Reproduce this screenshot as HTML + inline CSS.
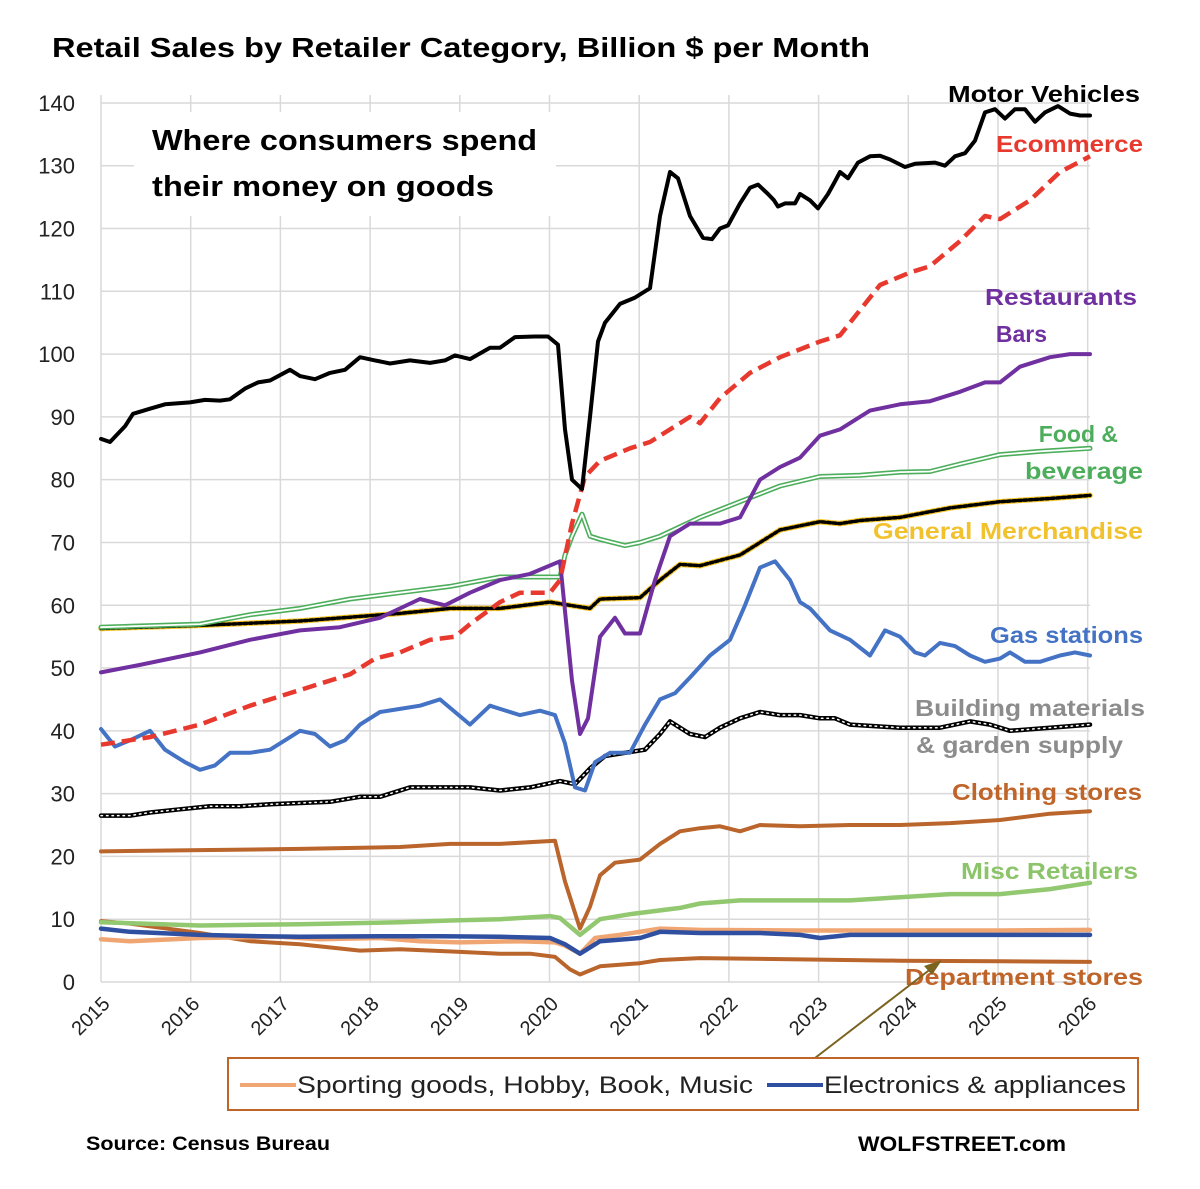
<!DOCTYPE html>
<html><head><meta charset="utf-8"><style>
html,body{margin:0;padding:0;background:#fff}
svg{display:block}
text{font-family:"Liberation Sans",sans-serif}
</style></head><body>
<svg id="s" width="1200" height="1189" viewBox="0 0 1200 1189" xmlns="http://www.w3.org/2000/svg">
<rect width="1200" height="1189" fill="#fff"/>
<g id="grid" stroke="#d9d9d9" stroke-width="1.5"></g>
<rect x="134" y="112" width="422" height="104" fill="#fff"/>
<g id="series" fill="none" stroke-linejoin="round" stroke-linecap="round"></g>
<g id="ylab" font-size="22" fill="#222" text-anchor="end"></g>
<g id="xlab" font-size="20" fill="#222" text-anchor="end"></g>
<text x="52" y="57" font-size="28" font-weight="bold" textLength="818" lengthAdjust="spacingAndGlyphs">Retail Sales by Retailer Category, Billion $ per Month</text>
<text x="152" y="150" font-size="29" font-weight="bold" textLength="385" lengthAdjust="spacingAndGlyphs">Where consumers spend</text>
<text x="152" y="196" font-size="29" font-weight="bold" textLength="342" lengthAdjust="spacingAndGlyphs">their money on goods</text>
<g font-size="23" font-weight="bold" text-anchor="end">
<text x="1140" y="102" fill="#000" textLength="192" lengthAdjust="spacingAndGlyphs">Motor Vehicles</text>
<text x="1143" y="152" fill="#e8392f" textLength="147" lengthAdjust="spacingAndGlyphs">Ecommerce</text>
<text x="1137" y="305" fill="#7030a0" textLength="152" lengthAdjust="spacingAndGlyphs">Restaurants</text>
<text x="1047" y="342" fill="#7030a0">Bars</text>
<text x="1118" y="442" fill="#4cae5b">Food &amp;</text>
<text x="1143" y="479" fill="#4cae5b" textLength="118" lengthAdjust="spacingAndGlyphs">beverage</text>
<text x="1143" y="539" fill="#f2c12e" textLength="270" lengthAdjust="spacingAndGlyphs">General Merchandise</text>
<text x="1143" y="643" fill="#4472c4" textLength="153" lengthAdjust="spacingAndGlyphs">Gas stations</text>
<text x="1145" y="716" fill="#8c8c8c" textLength="230" lengthAdjust="spacingAndGlyphs">Building materials</text>
<text x="1123" y="753" fill="#8c8c8c" textLength="207" lengthAdjust="spacingAndGlyphs">&amp; garden supply</text>
<text x="1142" y="800" fill="#c0652a" textLength="190" lengthAdjust="spacingAndGlyphs">Clothing stores</text>
<text x="1138" y="879" fill="#8cc46a" textLength="177" lengthAdjust="spacingAndGlyphs">Misc Retailers</text>
<text x="1143" y="985" fill="#c0652a" textLength="238" lengthAdjust="spacingAndGlyphs">Department stores</text>
</g>
<line x1="815" y1="1058" x2="932" y2="968" stroke="#7a6420" stroke-width="2"/>
<polygon points="942,960 924,966 932,975" fill="#7a6420"/>
<rect x="228" y="1058" width="910" height="52" fill="#fff" stroke="#c0652a" stroke-width="2"/>
<line x1="240" y1="1085" x2="296" y2="1085" stroke="#f0a672" stroke-width="4"/>
<text x="297" y="1093" font-size="24" fill="#222" textLength="456" lengthAdjust="spacingAndGlyphs">Sporting goods, Hobby, Book,  Music</text>
<line x1="767" y1="1085" x2="823" y2="1085" stroke="#2f4fa0" stroke-width="4"/>
<text x="824" y="1093" font-size="24" fill="#222" textLength="302" lengthAdjust="spacingAndGlyphs">Electronics &amp; appliances</text>
<text x="86" y="1150" font-size="19" font-weight="bold" textLength="244" lengthAdjust="spacingAndGlyphs">Source: Census Bureau</text>
<text x="858" y="1151" font-size="21" font-weight="bold" textLength="208" lengthAdjust="spacingAndGlyphs">WOLFSTREET.com</text>
</svg>
<script>
const NS="http://www.w3.org/2000/svg";
const Y=v=>982-v*6.279;
function el(p,tag,a,txt){const e=document.createElementNS(NS,tag);for(const k in a)e.setAttribute(k,a[k]);if(txt!==undefined)e.textContent=txt;p.appendChild(e);return e;}
const g=document.getElementById('grid');
for(let i=0;i<=14;i++){el(g,'line',{x1:101,x2:1090,y1:Y(i*10),y2:Y(i*10)});el(document.getElementById('ylab'),'text',{x:75,y:Y(i*10)+8},String(i*10));}
for(let i=0;i<=11;i++){const x=101+i*89.7;el(g,'line',{x1:x,x2:x,y1:95,y2:982});el(document.getElementById('xlab'),'text',{x:0,y:0,transform:`translate(${x+10},${1005}) rotate(-45)`},String(2015+i));}
const S=document.getElementById('series');
function P(d){return d.map((p,i)=>(i?'L':'M')+p[0]+','+Y(p[1]).toFixed(1)).join(' ');}
function add(d,a){a.d=P(d);el(S,'path',a);}
const dept=[[101,9.7],[130,9.3],[200,7.8],[250,6.5],[300,6],[360,5],[400,5.2],[460,4.8],[500,4.5],[530,4.5],[555,4],[570,2],[580,1.2],[600,2.5],[640,3],[660,3.5],[700,3.8],[800,3.6],[900,3.4],[1000,3.3],[1090,3.2]];
const sport=[[101,6.8],[130,6.5],[200,7],[280,7.2],[320,6.8],[380,7],[420,6.5],[460,6.3],[520,6.5],[555,6.3],[565,5.8],[580,4.5],[595,7],[620,7.5],[660,8.5],[700,8.3],[800,8.2],[900,8.2],[1000,8.2],[1090,8.3]];
const elec=[[101,8.5],[130,8],[200,7.5],[260,7.3],[300,7.2],[380,7.3],[440,7.3],[500,7.2],[550,7],[565,6],[580,4.5],[600,6.5],[640,7],[660,8],[700,7.8],[760,7.8],[800,7.5],[820,7],[850,7.5],[900,7.5],[1000,7.5],[1090,7.5]];
const misc=[[101,9.5],[200,9],[300,9.2],[400,9.5],[450,9.8],[500,10],[550,10.5],[560,10.2],[580,7.5],[600,10],[630,10.8],[680,11.8],[700,12.5],[740,13],[800,13],[850,13],[900,13.5],[950,14],[1000,14],[1050,14.8],[1090,15.8]];
const cloth=[[101,20.8],[200,21],[300,21.2],[400,21.5],[450,22],[500,22],[555,22.5],[565,16],[580,8.5],[590,12],[600,17],[615,19],[640,19.5],[660,22],[680,24],[700,24.5],[720,24.8],[740,24],[760,25],[800,24.8],[850,25],[900,25],[950,25.3],[1000,25.8],[1050,26.8],[1090,27.2]];
const build=[[101,26.5],[130,26.5],[150,27],[180,27.5],[210,28],[240,28],[270,28.3],[300,28.5],[330,28.7],[360,29.5],[380,29.5],[410,31],[440,31],[470,31],[500,30.5],[530,31],[560,32],[575,31.5],[590,34],[605,36],[625,36.5],[645,37],[660,39.5],[670,41.5],[690,39.5],[705,39],[720,40.5],[740,42],[760,43],[780,42.5],[800,42.5],[820,42],[835,42],[850,41],[900,40.5],[940,40.5],[970,41.5],[990,41],[1010,40],[1050,40.5],[1090,41]];
const gas=[[101,40.3],[115,37.5],[130,38.5],[150,40],[165,37],[185,35],[200,33.8],[215,34.5],[230,36.5],[250,36.5],[270,37],[285,38.5],[300,40],[315,39.5],[330,37.5],[345,38.5],[360,41],[380,43],[400,43.5],[420,44],[440,45],[455,43],[470,41],[490,44],[500,43.5],[520,42.5],[540,43.2],[555,42.5],[565,38],[575,31],[585,30.5],[595,35],[610,36.5],[630,36.5],[645,41],[660,45],[675,46],[690,48.5],[710,52],[730,54.5],[745,60],[760,66],[775,67],[790,64],[800,60.5],[810,59.5],[830,56],[850,54.5],[870,52],[885,56],[900,55],[915,52.5],[925,52],[940,54],[955,53.5],[970,52],[985,51],[1000,51.5],[1010,52.5],[1025,51],[1040,51],[1060,52],[1075,52.5],[1090,52]];
const gm=[[101,56.3],[200,56.8],[300,57.5],[400,58.7],[450,59.5],[500,59.5],[550,60.5],[570,60],[590,59.5],[600,61],[640,61.2],[660,64],[680,66.5],[700,66.3],[740,68],[760,70],[780,72],[820,73.3],[840,73],[860,73.5],[900,74],[950,75.5],[1000,76.5],[1050,77],[1090,77.5]];
const food=[[101,56.5],[200,57],[250,58.5],[300,59.5],[350,61],[400,62],[450,63],[500,64.5],[520,64.5],[560,64.5],[565,68],[572,71],[582,74.5],[590,71],[600,70.5],[625,69.5],[640,70],[660,71],[700,74],[740,76.5],[780,79],[820,80.5],[860,80.7],[900,81.2],[930,81.3],[960,82.5],[1000,84],[1040,84.5],[1090,85]];
const rest=[[101,49.3],[140,50.5],[200,52.5],[250,54.5],[300,56],[340,56.5],[380,58],[420,61],[445,60],[470,62],[500,64],[530,65],[560,67],[572,48],[580,39.5],[588,42],[600,55],[615,58],[625,55.5],[640,55.5],[655,64],[670,71],[690,73],[720,73],[740,74],[760,80],[780,82],[800,83.5],[820,87],[840,88],[870,91],[900,92],[930,92.5],[960,94],[985,95.5],[1000,95.5],[1020,98],[1050,99.5],[1070,100],[1090,100]];
const ecom=[[101,37.8],[150,39],[200,41],[250,44],[300,46.5],[350,49],[375,51.5],[400,52.5],[430,54.5],[455,55],[470,57],[500,60.5],[520,62],[550,62],[560,64],[572,73],[585,80.5],[600,83],[630,85],[650,86],[670,88],[690,90],[700,89],[720,93],[750,97],[780,99.5],[820,102],[840,103],[880,111],[910,113],[930,114],[960,118],[985,122],[1000,121.5],[1030,124.5],[1060,129],[1090,131.5]];
const mv=[[101,86.5],[110,86],[125,88.5],[133,90.5],[150,91.3],[165,92],[190,92.3],[205,92.7],[220,92.6],[230,92.8],[245,94.5],[258,95.5],[270,95.8],[290,97.5],[300,96.5],[315,96],[330,97],[345,97.5],[360,99.5],[375,99],[390,98.5],[410,99],[430,98.6],[445,99],[455,99.8],[470,99.2],[490,101],[500,101],[515,102.7],[535,102.8],[548,102.8],[558,101.5],[565,88],[572,80],[582,78.5],[590,90],[598,102],[605,105],[620,108],[635,109],[650,110.5],[660,122],[670,129],[678,128],[690,122],[703,118.5],[712,118.3],[720,120],[728,120.5],[740,124],[750,126.5],[758,127],[768,125.5],[774,124.5],[778,123.5],[785,124],[795,124],[800,125.5],[810,124.5],[818,123.2],[828,125.5],[835,127.5],[840,129],[848,128],[858,130.5],[870,131.5],[880,131.6],[890,131],[905,129.8],[915,130.3],[935,130.5],[945,130],[955,131.5],[965,132],[975,134],[985,138.5],[995,139],[1005,137.5],[1015,139],[1025,139],[1035,137],[1045,138.5],[1058,139.5],[1070,138.3],[1080,138],[1090,138]];
add(dept,{stroke:'#b9652c','stroke-width':4});
add(sport,{stroke:'#f0a672','stroke-width':4.5});
add(misc,{stroke:'#92c86f','stroke-width':4.5});
add(elec,{stroke:'#2f4fa0','stroke-width':4.5});
add(cloth,{stroke:'#b9652c','stroke-width':4});
add(build,{stroke:'#000','stroke-width':4.5});
add(build,{stroke:'#fff','stroke-width':1.5,'stroke-dasharray':'1.5 4'});
add(gas,{stroke:'#4472c4','stroke-width':4});
add(gm,{stroke:'#f5c62a','stroke-width':5.5});
add(gm,{stroke:'#000','stroke-width':3.5,'stroke-dasharray':'3 2.5'});
add(food,{stroke:'#4cae5b','stroke-width':5});
add(food,{stroke:'#fff','stroke-width':1.8});
add(rest,{stroke:'#7030a0','stroke-width':4});
add(ecom,{stroke:'#e8392f','stroke-width':4.5,'stroke-dasharray':'14 7','stroke-linecap':'butt'});
add(mv,{stroke:'#000','stroke-width':4});
</script>
</body></html>
